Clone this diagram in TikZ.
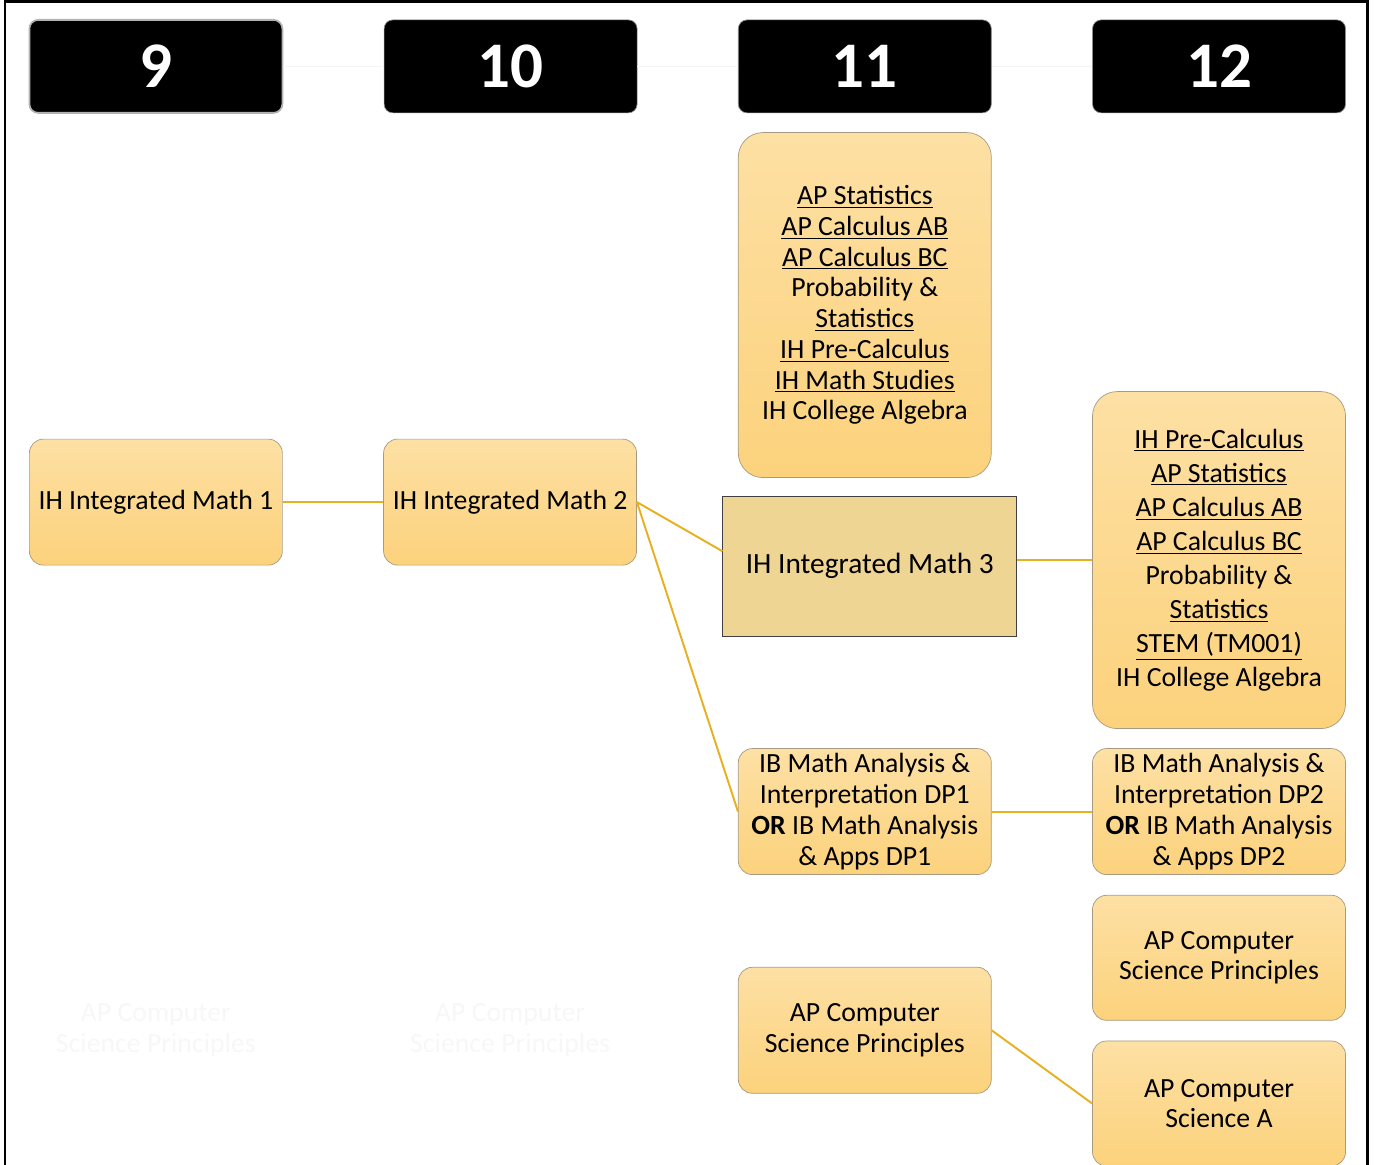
\documentclass[tikz,border=0pt]{standalone}
\usepackage{fontspec}
\setmainfont{Carlito}
\usetikzlibrary{positioning}

\definecolor{boxtop}{HTML}{FDE0A4}
\definecolor{boxbot}{HTML}{FCD27C}
\definecolor{boxline}{HTML}{A89A80}
\definecolor{gold}{HTML}{E6B020}
\definecolor{maththree}{HTML}{EED594}

\begin{document}
\begin{tikzpicture}[every node/.style={align=center}, node distance=2.01cm,
  year/.style={draw=black!45, fill=black, text=white, rounded corners=5pt, minimum width=5.06cm, minimum height=1.86cm, font=\fontsize{37}{37}\selectfont\bfseries},
  course/.style={draw=boxline, top color=boxtop, bottom color=boxbot, rounded corners=8pt, minimum width=5.06cm, minimum height=2.52cm, inner sep=2pt, font=\fontsize{15.8}{17.5}\selectfont},
  list/.style={course, rounded corners=14pt},
  link/.style={draw=gold, line width=1.1pt},
  ghost/.style={text=black!3, font=\fontsize{15.8}{17.5}\selectfont}]

\useasboundingbox (0,0) rectangle (27.48,-23.3);

% Frame
\draw[line width=1.7pt] (0.1,-23.3) -- (0.1,-0.03) -- (27.34,-0.03) -- (27.34,-23.3);

% Grade headers
\node (h9) [year, draw=black!30, line width=1pt, anchor=north west] at (0.57,-0.38) {9};
\node (h10) [year, right=of h9] {10};
\node (h11) [year, right=of h10] {11};
\node (h12) [year, right=of h11] {12};

\draw[black!4] (h9) -- (h10);
\draw[black!4] (h10) -- (h11);
\draw[black!4] (h11) -- (h12);

% Integrated math sequence
\node (im1) [course, below=6.5cm of h9] {IH Integrated Math 1};
\node (im2) [course, right=of im1] {IH Integrated Math 2};

\node (t11) [list, below=0.38cm of h11, minimum height=6.9cm] {\underline{AP Statistics}\\\underline{AP Calculus AB}\\\underline{AP Calculus BC}\\Probability \&\\\underline{Statistics}\\\underline{IH Pre-Calculus}\\\underline{IH Math Studies}\\IH College Algebra};
\node (im3) [draw=black!75, fill=maththree, minimum width=5.88cm, minimum height=2.8cm, below=0.36cm of t11, xshift=0.1cm, font=\fontsize{16.7}{20}\selectfont] {IH Integrated Math 3};

\node (t12) [list, below=5.56cm of h12, minimum height=6.74cm, font=\fontsize{15.8}{19.4}\selectfont] {\underline{IH Pre-Calculus}\\\underline{AP Statistics}\\\underline{AP Calculus AB}\\\underline{AP Calculus BC}\\Probability \&\\\underline{Statistics}\\\underline{STEM (TM001)}\\IH College Algebra};

% IB courses
\node (dp1) [course, below=12.7cm of h11] {IB Math Analysis \&\\Interpretation DP1\\\textbf{OR} IB Math Analysis\\\& Apps DP1};
\node (dp2) [course, right=of dp1] {IB Math Analysis \&\\Interpretation DP2\\\textbf{OR} IB Math Analysis\\\& Apps DP2};

% Computer science
\node (csp12) [course, below=0.4cm of dp2, minimum height=2.5cm] {AP Computer\\Science Principles};
\node (csa) [course, below=0.4cm of csp12, minimum height=2.5cm] {AP Computer\\Science A};
\node (csp11) [course, below=1.84cm of dp1] {AP Computer\\Science Principles};

\node (ghost9) [ghost] at (im1 |- csp11) {AP Computer\\Science Principles};
\node (ghost10) [ghost] at (im2 |- csp11) {AP Computer\\Science Principles};

% Connectors
\draw[link] (im1) -- (im2);
\draw[link] (im2.east) -- ([yshift=0.3cm]im3.west);
\draw[link] (im2.east) -- (dp1.west);
\draw[link] (t12.west -| im3.east) -- (t12.west);
\draw[link] (dp1) -- (dp2);
\draw[link] (csp11.east) -- (csa.west);

\end{tikzpicture}
\end{document}
